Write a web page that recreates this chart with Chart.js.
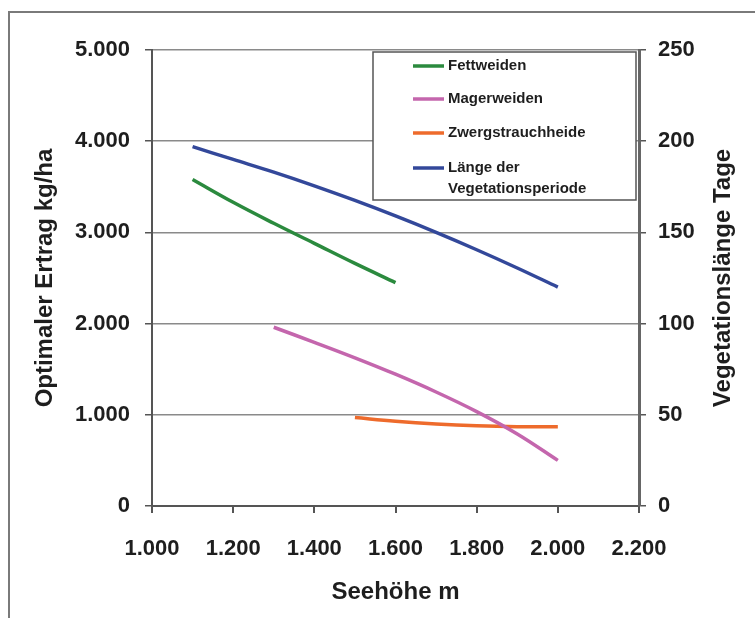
<!DOCTYPE html>
<html>
<head>
<meta charset="utf-8">
<script src="https://cdn.jsdelivr.net/npm/chart.js@4.4.1/dist/chart.umd.min.js"></script>
<style>
  html, body { margin: 0; padding: 0; background: #fff; }
  #wrap { position: relative; width: 755px; height: 618px; overflow: hidden; }
  #frame { position: absolute; left: 8px; top: 11px; width: 800px; height: 700px;
           border-top: 2px solid #7a7a7a; border-left: 2px solid #7a7a7a; }
  #c { position: absolute; left: 0; top: 0; }
</style>
</head>
<body>
<div id="wrap">
  <div id="frame"></div>
  <canvas id="c" width="755" height="618"></canvas>
</div>
<script>
// Werte
const fettHoehe = [1100, 1200, 1300, 1400, 1500, 1600];
const fettErtrag = [3580, 3330, 3100, 2880, 2660, 2450];

const magerHoehe = [1300, 1400, 1500, 1600, 1700, 1800, 1900, 2000];
const magerErtrag = [1960, 1795, 1625, 1445, 1250, 1035, 790, 500];

const zwergHoehe = [1500, 1600, 1700, 1800, 1900, 2000];
const zwergErtrag = [970, 930, 900, 880, 870, 870];

const vegHoehe = [1100, 1200, 1300, 1400, 1500, 1600, 1700, 1800, 1900, 2000];
const vegTage = [197, 190, 183, 175.5, 167.5, 159, 150, 140.5, 130.5, 120];

const seriesNames = ['Fettweiden', 'Magerweiden', 'Zwergstrauchheide', ['Länge der', 'Vegetationsperiode']];
const seriesColors = ['#2b8a3e', '#c466ad', '#ee6b2c', '#33489a'];

const xTitle = 'Seehöhe m';
const yTitle = 'Optimaler Ertrag kg/ha';
const y1Title = 'Vegetationslänge Tage';

const txt = '#1e1e1e';
const fontFam = '"Liberation Sans", Arial, sans-serif';

function fmt(v) {
  // deutsches Tausendertrennzeichen
  const s = String(Math.round(v));
  return s.replace(/\B(?=(\d{3})+(?!\d))/g, '.');
}

function pts(xs, ys) {
  return xs.map((x, i) => ({ x: x, y: ys[i] }));
}

function lineDs(label, xs, ys, color, axis) {
  return {
    label: Array.isArray(label) ? label.join(' ') : label,
    data: pts(xs, ys),
    borderColor: color,
    backgroundColor: color,
    borderWidth: 3.5,
    pointRadius: 0,
    tension: 0.4,
    fill: false,
    yAxisID: axis
  };
}

// Legende und rechter Achsentitel selbst zeichnen (zweizeiliger Eintrag, Text von unten nach oben)
const extras = {
  id: 'extras',
  afterDraw(chart) {
    const ctx = chart.ctx;
    const a = chart.chartArea;
    ctx.save();

    // Legende
    const bx = a.left + 221, by = a.top + 2, bw = 263, bh = 148;
    ctx.fillStyle = '#fff';
    ctx.fillRect(bx, by, bw, bh);
    ctx.strokeStyle = '#555';
    ctx.lineWidth = 1.5;
    ctx.strokeRect(bx, by, bw, bh);

    const rowY = [66, 99, 133, 168];
    ctx.font = 'bold 15px ' + fontFam;
    ctx.textBaseline = 'middle';
    ctx.textAlign = 'left';
    seriesNames.forEach((name, i) => {
      const y = rowY[i];
      ctx.strokeStyle = seriesColors[i];
      ctx.lineWidth = 3.5;
      ctx.beginPath();
      ctx.moveTo(bx + 40, y);
      ctx.lineTo(bx + 71, y);
      ctx.stroke();
      ctx.fillStyle = txt;
      const lines = Array.isArray(name) ? name : [name];
      lines.forEach((l, j) => ctx.fillText(l, bx + 75, y + j * 21));
    });

    // rechter Achsentitel
    ctx.font = 'bold 24px ' + fontFam;
    ctx.fillStyle = txt;
    ctx.textAlign = 'center';
    ctx.textBaseline = 'middle';
    ctx.translate(723, (a.top + a.bottom) / 2);
    ctx.rotate(-Math.PI / 2);
    ctx.fillText(y1Title, 0, 0);
    ctx.restore();
  }
};

new Chart(document.getElementById('c').getContext('2d'), {
  type: 'line',
  data: {
    datasets: [
      lineDs(seriesNames[0], fettHoehe, fettErtrag, seriesColors[0], 'y'),
      lineDs(seriesNames[1], magerHoehe, magerErtrag, seriesColors[1], 'y'),
      lineDs(seriesNames[2], zwergHoehe, zwergErtrag, seriesColors[2], 'y'),
      lineDs(seriesNames[3], vegHoehe, vegTage, seriesColors[3], 'y1')
    ]
  },
  options: {
    responsive: false,
    animation: false,
    layout: { padding: { left: 0, right: 0, top: 50, bottom: 0 } },
    plugins: {
      legend: { display: false },
      tooltip: { enabled: false }
    },
    scales: {
      x: {
        type: 'linear',
        min: 1000,
        max: 2200,
        ticks: {
          stepSize: 200,
          color: txt,
          padding: 23,
          font: { family: fontFam, size: 22, weight: 'bold' },
          callback: v => fmt(v)
        },
        grid: { drawOnChartArea: false, tickLength: 7, color: '#555', lineWidth: 2 },
        border: { color: '#555', width: 2 },
        title: {
          display: true,
          text: xTitle,
          color: txt,
          font: { family: fontFam, size: 24, weight: 'bold' },
          padding: { top: 0, bottom: 11 }
        },
        afterFit(s) { s.height = 112; }
      },
      y: {
        position: 'left',
        min: 0,
        max: 5000,
        ticks: {
          stepSize: 1000,
          color: txt,
          padding: 15,
          font: { family: fontFam, size: 22, weight: 'bold' },
          callback: v => fmt(v)
        },
        grid: { color: '#8a8a8a', lineWidth: 1.5, tickLength: 7, tickColor: '#555' },
        border: { color: '#555', width: 2 },
        title: {
          display: true,
          text: yTitle,
          color: txt,
          font: { family: fontFam, size: 24, weight: 'bold' },
          padding: { top: 31, bottom: 0 }
        },
        afterFit(s) { s.width = 152; }
      },
      y1: {
        position: 'right',
        min: 0,
        max: 250,
        ticks: {
          stepSize: 50,
          color: txt,
          padding: 12,
          font: { family: fontFam, size: 22, weight: 'bold' },
          callback: v => fmt(v)
        },
        grid: { drawOnChartArea: false, tickLength: 7, color: '#555', lineWidth: 1.5 },
        border: { color: '#666', width: 3 },
        afterFit(s) { s.width = 116; }
      }
    }
  },
  plugins: [extras]
});
</script>
</body>
</html>
